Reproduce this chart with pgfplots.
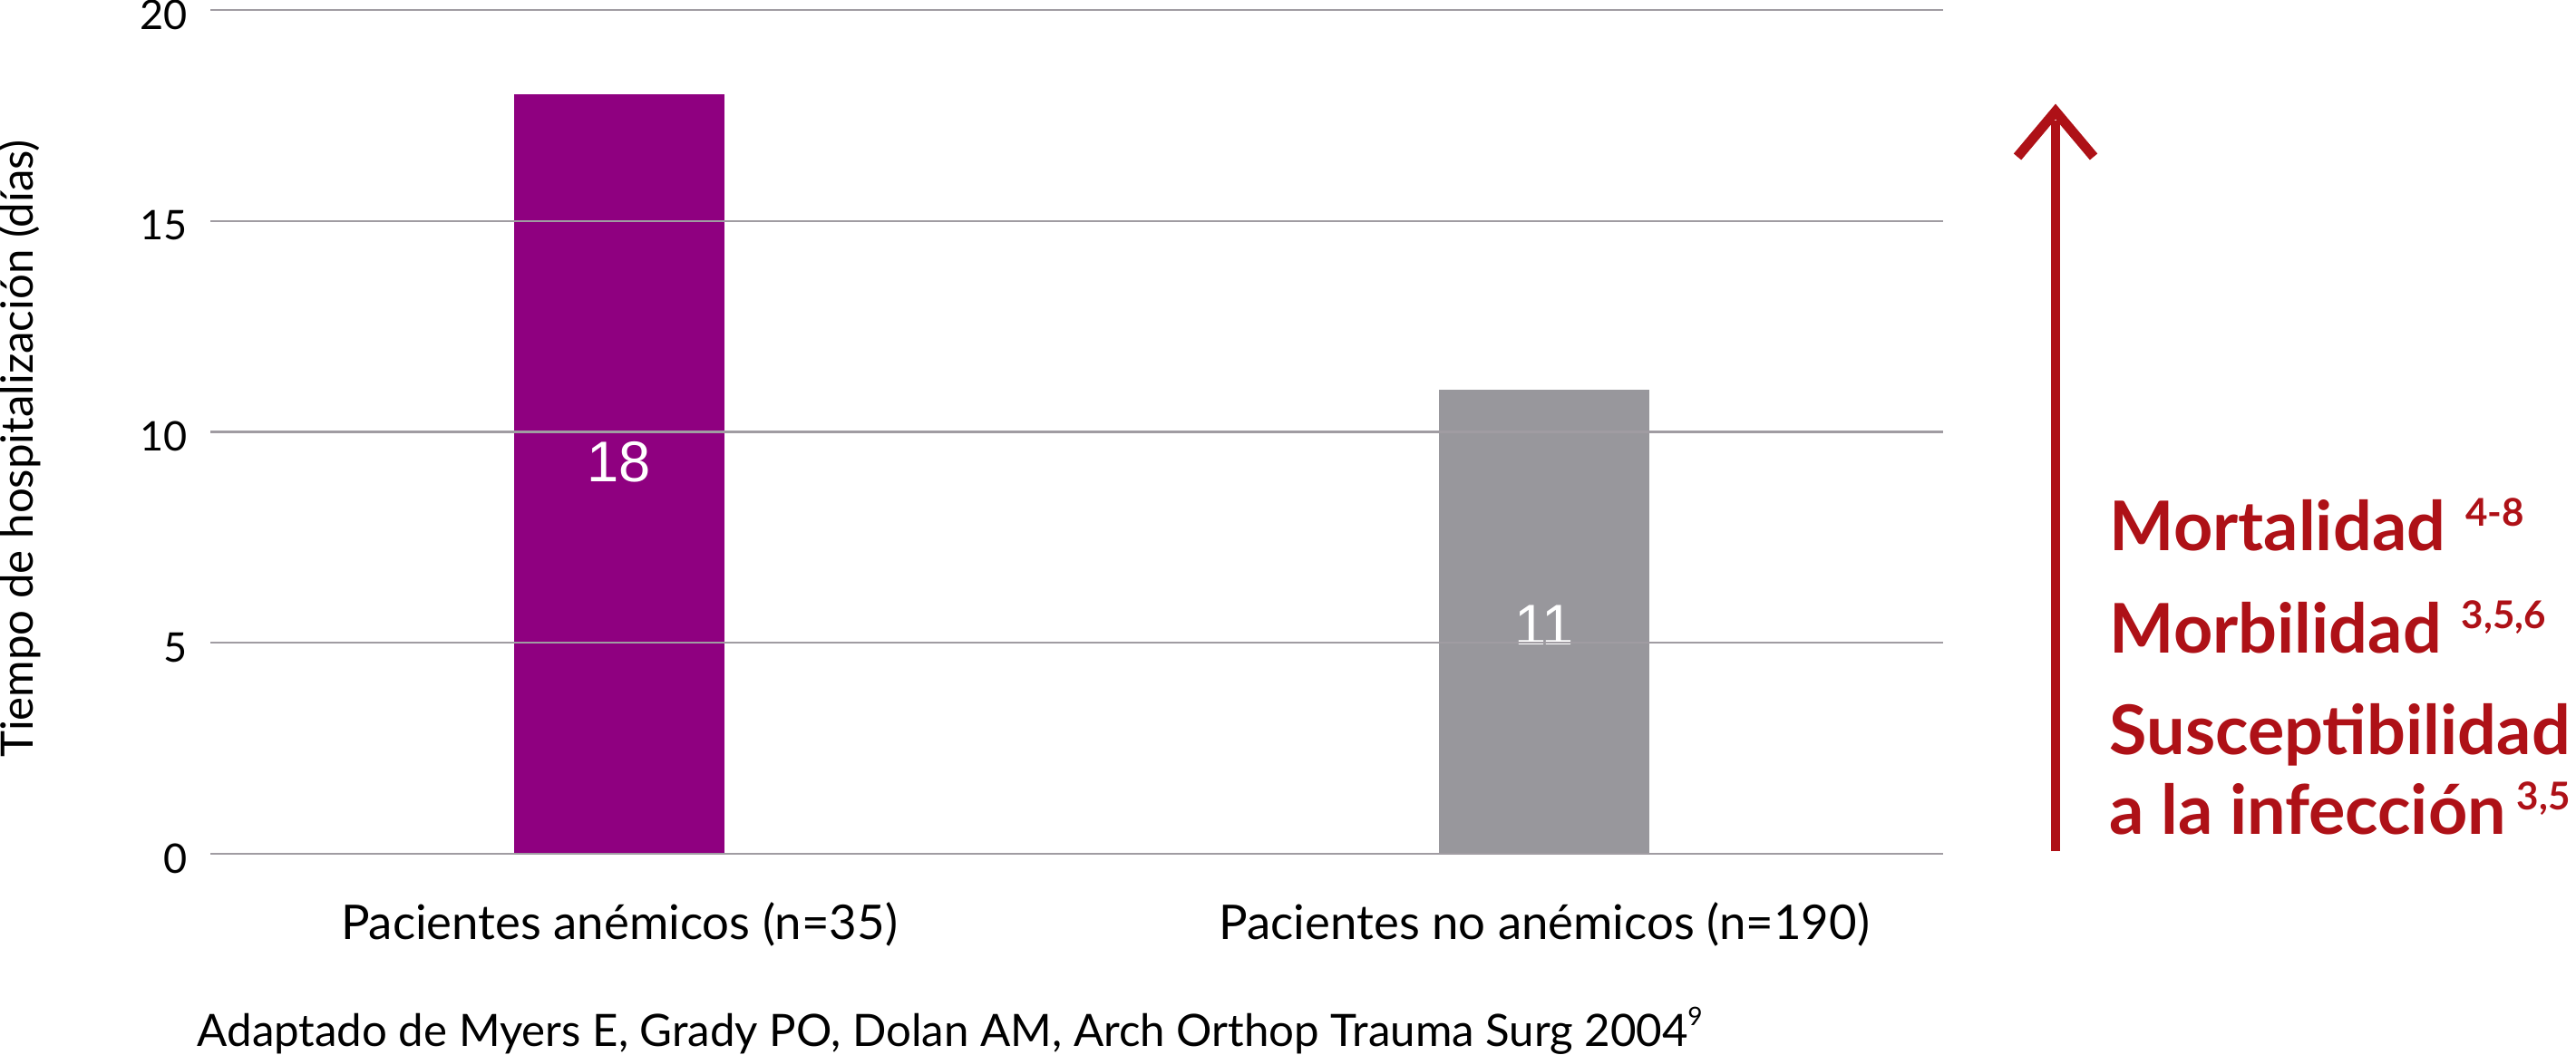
\documentclass[border=0pt]{standalone}
\usepackage{fontspec}
\setmainfont{Lato}
\newfontfamily\valfont{Liberation Sans}
\usepackage{pgfplots}
\pgfplotsset{compat=1.18}

\definecolor{barpurple}{HTML}{8F0080}
\definecolor{bargrey}{HTML}{98979C}
\definecolor{gridgrey}{HTML}{A09CA2}
\definecolor{accent}{HTML}{AE1117}

\begin{document}
\begin{tikzpicture}[x=1cm,y=1cm]
\path[use as bounding box] (0,0) rectangle (28.41,11.63);
\begin{axis}[
at={(2.32cm,2.21cm)}, anchor=south west,
scale only axis,
width=19.11cm, height=9.31cm,
xmin=-0.442, xmax=1.431,
ymin=0, ymax=20,
axis line style={draw=none},
major tick style={draw=none},
xtick={0,1},
xticklabels={Pacientes anémicos (n=35),Pacientes no anémicos (n=190)},
ytick={0,5,10,15,20},
ymajorgrids,
grid style={gridgrey, line width=0.6pt},
axis on top,
/pgf/number format/assume math mode=true,
yticklabel style={font=\fontsize{12.8}{15}\selectfont, anchor=east, inner sep=0pt, xshift=-0.25cm, yshift=-0.05cm},
xticklabel style={font=\fontsize{15}{18}\selectfont, anchor=base, inner sep=0pt, yshift=-0.94cm},
]
\addplot [ybar, bar width=2.32cm, fill=barpurple, draw=none] coordinates {(0,18)};
\addplot [ybar, bar width=2.32cm, fill=bargrey, draw=none] coordinates {(1,11)};
\node [font=\valfont\fontsize{18}{21}\selectfont, text=white] at (axis cs:0,9.28) {18};
\node [font=\valfont\fontsize{18}{21}\selectfont, text=white] at (axis cs:1,5.41) {11};
\end{axis}

% y axis title
\node [rotate=90, font=\fontsize{14}{17}\selectfont] at (0.22,6.68) {Tiempo de hospitalización (días)};

% source note
\node [anchor=base west, inner sep=0pt, font=\fontsize{14}{17}\selectfont] at (2.17,0.09)
  {Adaptado de Myers E, Grady PO, Dolan AM, Arch Orthop Trauma Surg 2004\raisebox{0.45em}{\fontsize{8}{9}\selectfont 9}};

% arrow at the right
\draw [accent, line width=3.1pt] (22.67,2.24) -- (22.67,10.30);
\draw [accent, line width=3.1pt, line join=miter] (22.25,9.90) -- (22.67,10.40) -- (23.09,9.90);

\begin{scope}[every node/.style={anchor=base west, inner sep=0pt, text=accent, font=\fontsize{21.5}{25}\selectfont\bfseries}]
\node at (23.26,5.55) {Mortalidad\hspace{0.22cm}\raisebox{0.27cm}{\fontsize{12}{13}\selectfont\bfseries 4-8}};
\node at (23.26,4.43) {Morbilidad\hspace{0.22cm}\raisebox{0.27cm}{\fontsize{12}{13}\selectfont\bfseries 3,5,6}};
\node at (23.26,3.30) {Susceptibilidad};
\node at (23.26,2.43) {a la infección\hspace{0.12cm}\raisebox{0.27cm}{\fontsize{12}{13}\selectfont\bfseries 3,5}};
\end{scope}
\end{tikzpicture}
\end{document}
